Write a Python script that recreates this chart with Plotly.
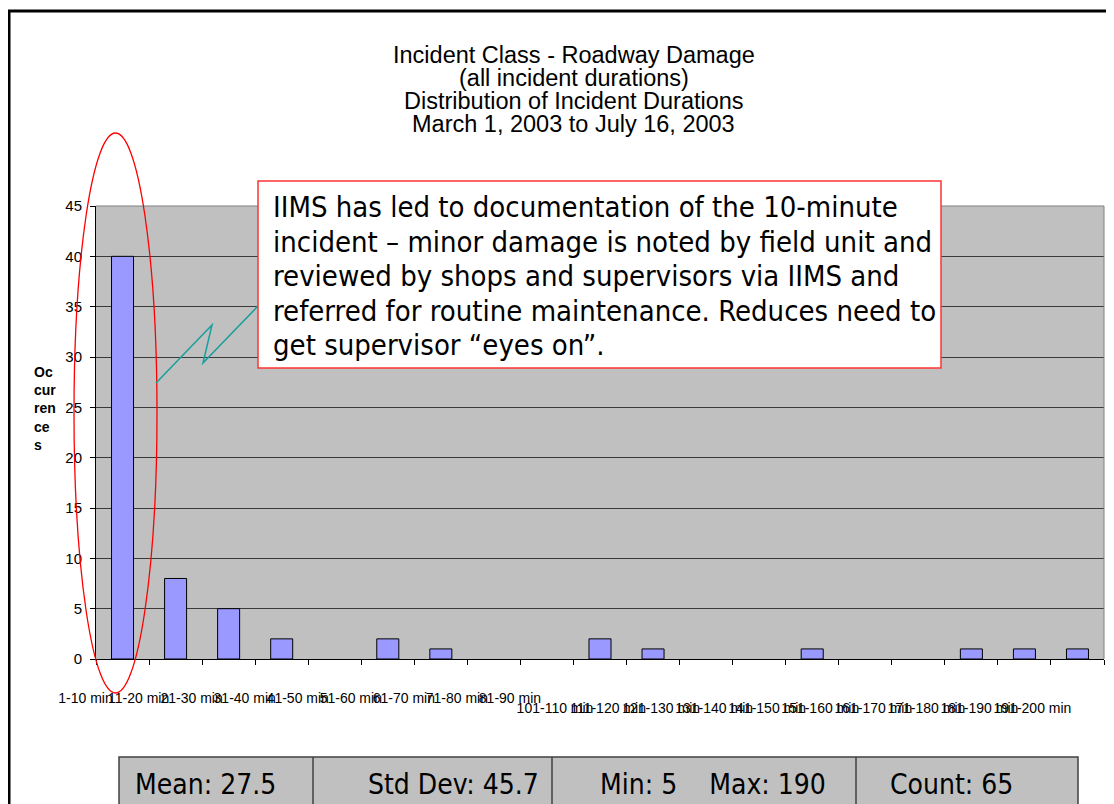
import plotly.graph_objects as go

# ---------------- data ----------------
categories = ["1-10 min", "11-20 min", "21-30 min", "31-40 min", "41-50 min",
              "51-60 min", "61-70 min", "71-80 min", "81-90 min", "101-110 min",
              "111-120 min", "121-130 min", "131-140 min", "141-150 min",
              "151-160 min", "161-170 min", "171-180 min", "181-190 min",
              "191-200 min"]
occurrences = [40, 8, 5, 2, 0, 2, 1, 0, 0, 2, 1, 0, 0, 1, 0, 0, 1, 1, 1]
y_ticks = [0, 5, 10, 15, 20, 25, 30, 35, 40, 45]
title_lines = ["Incident Class - Roadway Damage",
               "(all incident durations)",
               "Distribution of Incident Durations",
               "March 1, 2003 to July 16, 2003"]
y_title = "Oc<br>cur<br>ren<br>ce<br>s"
note_lines = ["IIMS has led to documentation of the 10-minute",
              "incident \u2013 minor damage is noted by field unit and",
              "reviewed by shops and supervisors via IIMS and",
              "referred for routine maintenance. Reduces need to",
              "get supervisor \u201ceyes on\u201d."]
stats_texts = ["Mean: 27.5", "Std Dev: 45.7", "Min: 5\u00a0\u00a0\u00a0\u00a0Max: 190", "Count: 65"]
split_at = 9  # labels from this index onward sit on the lower row

# ---------------- geometry helpers ----------------
# the page body has an 8px margin, so the figure starts at (8, 8) in the window
OFF = 8
W, H = 1114 - OFF, 804 - OFF
PL, PR, PT, PB = 96, 1104, 206, 659      # plot area in window pixels


def px(x):
    return (x - PL) / (PR - PL)


def py(y):
    return (PB - y) / (PB - PT)


ARIAL = "Liberation Sans, Arial, sans-serif"
TAHOMA = "DejaVu Sans Condensed, DejaVu Sans, sans-serif"

row1 = [c if i < split_at else "" for i, c in enumerate(categories)]
row2 = [c if i >= split_at else "" for i, c in enumerate(categories)]
outline_w = [1 if v > 0 else 0 for v in occurrences]

fig = go.Figure()
fig.add_trace(go.Bar(x=categories, y=occurrences,
                     marker=dict(color="#9999FF", line=dict(color="#000000", width=outline_w)),
                     showlegend=False, hoverinfo="x+y"))
fig.add_trace(go.Scatter(x=categories, y=[None] * len(categories), xaxis="x2",
                         mode="markers", showlegend=False, hoverinfo="skip"))

shapes = []
# outer page frame
shapes.append(dict(type="path", xref="paper", yref="paper",
                   path=f"M {px(9)},{py(830)} L {px(9)},{py(11)} L {px(1130)},{py(11)}",
                   line=dict(color="#000000", width=3)))
# light plot-area border on top and right
shapes.append(dict(type="path", xref="paper", yref="paper", layer="above",
                   path="M 0,1 L 1,1 L 1,0",
                   line=dict(color="#808080", width=1)))
# red ellipse around first bar
shapes.append(dict(type="circle", xref="paper", yref="paper", layer="above",
                   x0=px(74), x1=px(157), y0=py(693), y1=py(133),
                   line=dict(color="#FF0000", width=1.3)))
# callout pointer
shapes.append(dict(type="path", xref="paper", yref="paper", layer="above",
                   path=f"M {px(258)},{py(306)} L {px(203)},{py(363)} L {px(212)},{py(325)} L {px(156)},{py(383)}",
                   line=dict(color="#1A9E9E", width=1.5)))
# callout box
shapes.append(dict(type="rect", xref="paper", yref="paper", layer="above",
                   x0=px(258), x1=px(941), y0=py(368), y1=py(181),
                   fillcolor="#FFFFFF", line=dict(color="#FF3333", width=1.5)))
# stats table
shapes.append(dict(type="rect", xref="paper", yref="paper",
                   x0=px(119), x1=px(1078), y0=py(830), y1=py(757),
                   fillcolor="#C0C0C0", line=dict(color="#404040", width=1.5)))
for xd in [313, 552, 856]:
    shapes.append(dict(type="line", xref="paper", yref="paper",
                       x0=px(xd), x1=px(xd), y0=py(830), y1=py(757),
                       line=dict(color="#404040", width=1.5)))

annotations = []
for i, t in enumerate(title_lines):
    annotations.append(dict(text=t, xref="paper", yref="paper", x=px(573.5), y=py(55 + 23 * i),
                            xanchor="center", yanchor="middle", showarrow=False,
                            font=dict(family=ARIAL, size=23.5, color="#000000")))
annotations.append(dict(text="<b>" + y_title + "</b>", xref="paper", yref="paper",
                        x=px(32), y=py(408), xanchor="left", yanchor="middle", align="left",
                        showarrow=False, font=dict(family=ARIAL, size=14, color="#000000")))
for i, t in enumerate(note_lines):
    annotations.append(dict(text=t, xref="paper", yref="paper", x=px(271), y=py(207 + 34.6 * i),
                            xanchor="left", yanchor="middle", showarrow=False,
                            font=dict(family=TAHOMA, size=29, color="#000000")))
stat_pos = [(133, "left"), (541, "right"), (598, "left"), (888, "left")]
for t, (xx, anc) in zip(stats_texts, stat_pos):
    annotations.append(dict(text=t, xref="paper", yref="paper", x=px(xx), y=py(784),
                            xanchor=anc, yanchor="middle", showarrow=False,
                            font=dict(family=TAHOMA, size=28, color="#000000")))

fig.update_layout(
    width=W, height=H, autosize=False,
    margin=dict(l=PL - OFF, r=W - (PR - OFF), t=PT - OFF, b=H - (PB - OFF), pad=0),
    paper_bgcolor="#FFFFFF", plot_bgcolor="#C0C0C0",
    font=dict(family=ARIAL, size=14, color="#000000"),
    bargap=0.585, showlegend=False,
    xaxis=dict(type="category", categoryorder="array", categoryarray=categories,
               range=[-0.5, len(categories) - 0.5],
               tickmode="array", tickvals=categories, ticktext=row1, tickangle=0,
               tickson="boundaries", ticks="outside", ticklen=5, tickcolor="#000000",
               showline=True, linecolor="#000000", linewidth=1, showgrid=False,
               ticklabelshift=-37, ticklabelstandoff=26,
               tickfont=dict(family=ARIAL, size=14, color="#000000"), fixedrange=True),
    xaxis2=dict(type="category", categoryorder="array", categoryarray=categories,
                range=[-0.5, len(categories) - 0.5], overlaying="x", anchor="y", side="bottom",
                tickmode="array", tickvals=categories, ticktext=row2, tickangle=0,
                ticks="", showline=False, showgrid=False, zeroline=False,
                ticklabelshift=-45, ticklabelstandoff=39,
                tickfont=dict(family=ARIAL, size=14, color="#000000"), fixedrange=True),
    yaxis=dict(range=[0, 45], tickmode="array", tickvals=y_ticks,
               ticks="outside", ticklen=5, tickcolor="#000000",
               showline=True, linecolor="#000000", linewidth=1,
               showgrid=True, gridcolor="#3A3A3A", gridwidth=1, zeroline=False,
               ticklabelstandoff=5,
               tickfont=dict(family=ARIAL, size=15, color="#000000"), fixedrange=True),
    shapes=shapes, annotations=annotations,
)

fig.write_html("out.html", config={"displayModeBar": False})
